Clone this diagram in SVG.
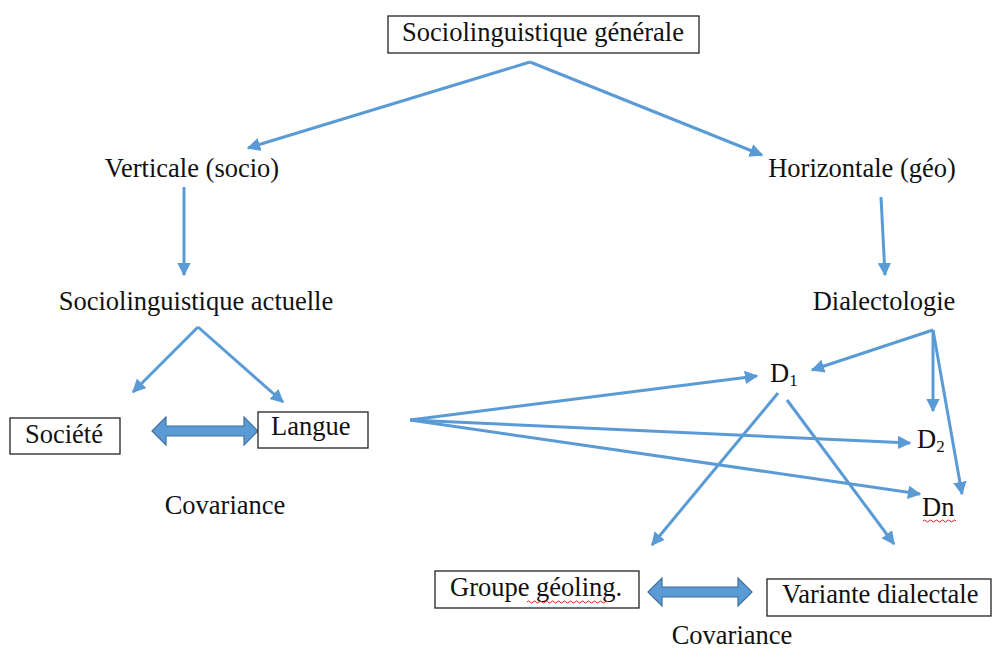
<svg xmlns="http://www.w3.org/2000/svg" width="993" height="650" viewBox="0 0 993 650">
<style>
text{font-family:"Liberation Serif","Times New Roman",serif;font-size:26.5px;fill:#111}
.box{fill:#fff;stroke:#222;stroke-width:1.3}
.c{fill:none;stroke:#5B9BD5;stroke-width:3;marker-end:url(#ah)}
.dbl{fill:#5B9BD5;stroke:#41719C;stroke-width:1.2}
.sq{fill:none;stroke:#e02020;stroke-width:1}
</style>
<defs>
<marker id="ah" viewBox="0 0 10 10" refX="9" refY="5" markerWidth="4.5" markerHeight="4.5" orient="auto" markerUnits="strokeWidth">
<path d="M0,0 L10,5 L0,10 Z" fill="#5B9BD5"/>
</marker>
</defs>
<rect width="993" height="650" fill="#fff"/>
<g id="connectors">
<path class="c" d="M530,62 L248,148"/>
<path class="c" d="M530,62 L762,155"/>
<path class="c" d="M184,187 L184,275"/>
<path class="c" d="M881,197 L885,275"/>
<path class="c" d="M198,327 L133,392"/>
<path class="c" d="M198,327 L283,402"/>
<path class="c" d="M410,420 L757,376"/>
<path class="c" d="M410,420 L910,443"/>
<path class="c" d="M410,420 L920,494"/>
<path class="c" d="M933,330 L812,370"/>
<path class="c" d="M933,330 L933,411"/>
<path class="c" d="M933,330 L962,494"/>
<path class="c" d="M778,393 L652,545"/>
<path class="c" d="M787,400 L894,544"/>
<path class="dbl" d="M152,431 L166,417 L166,426 L244,426 L244,417 L258,431 L244,445 L244,436 L166,436 L166,445 Z"/>
<path class="dbl" d="M648,592 L662,578 L662,587 L738,587 L738,578 L752,592 L738,606 L738,597 L662,597 L662,606 Z"/>
</g>
<g id="n-generale">
<rect class="box" x="388" y="16" width="311" height="37"/>
<text x="543" y="41" text-anchor="middle">Sociolinguistique générale</text>
</g>
<g id="n-verticale"><text x="192" y="177" text-anchor="middle">Verticale (socio)</text></g>
<g id="n-horizontale"><text x="862" y="177" text-anchor="middle">Horizontale (géo)</text></g>
<g id="n-actuelle"><text x="196" y="310" text-anchor="middle">Sociolinguistique actuelle</text></g>
<g id="n-dialectologie"><text x="884" y="310" text-anchor="middle">Dialectologie</text></g>
<g id="n-societe">
<rect class="box" x="10" y="418" width="110" height="36"/>
<text x="25" y="443">Société</text>
</g>
<g id="n-langue">
<rect class="box" x="258" y="412" width="110" height="36"/>
<text x="271" y="435">Langue</text>
</g>
<g id="n-cov1"><text x="225" y="514" text-anchor="middle">Covariance</text></g>
<g id="n-d1"><text x="770" y="382">D<tspan font-size="17" dy="4">1</tspan></text></g>
<g id="n-d2"><text x="917" y="448">D<tspan font-size="17" dy="4">2</tspan></text></g>
<g id="n-dn"><text x="922" y="516">Dn</text>
<path class="sq" d="M923,521 q1.5,-2 3,0 t3,0 t3,0 t3,0 t3,0 t3,0 t3,0 t3,0 t3,0 t3,0 t3,0"/></g>
<g id="n-groupe">
<rect class="box" x="435" y="571" width="204" height="37"/>
<text x="450" y="596">Groupe géoling.</text>
<path class="sq" d="M527,602 q1.5,-2 3,0 t3,0 t3,0 t3,0 t3,0 t3,0 t3,0 t3,0 t3,0 t3,0 t3,0 t3,0 t3,0 t3,0 t3,0 t3,0 t3,0 t3,0 t3,0 t3,0 t3,0 t3,0 t3,0 t3,0 t3,0 t3,0 t3,0"/>
</g>
<g id="n-variante">
<rect class="box" x="767" y="579" width="224" height="37"/>
<text x="782" y="603">Variante dialectale</text>
</g>
<g id="n-cov2"><text x="732" y="644" text-anchor="middle">Covariance</text></g>
</svg>
